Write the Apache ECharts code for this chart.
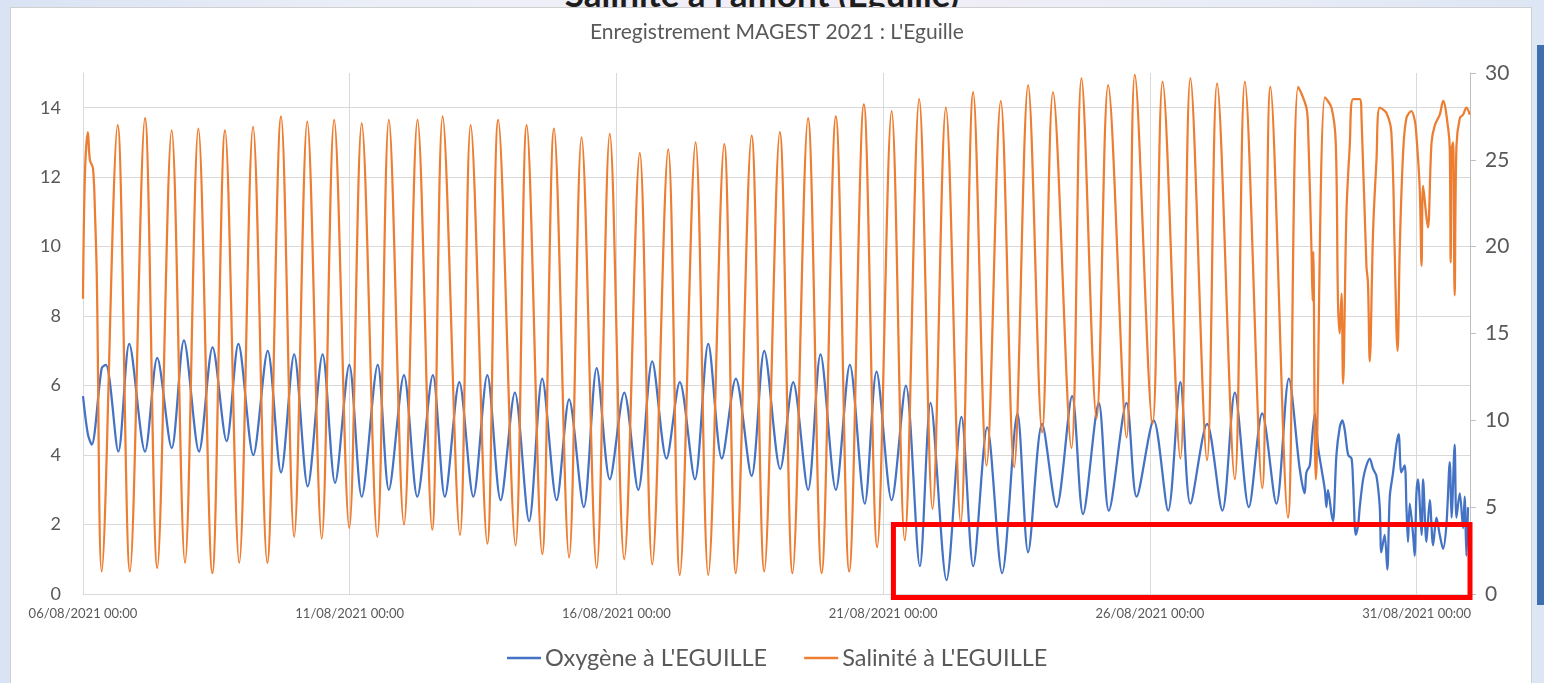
<!DOCTYPE html>
<html>
<head>
<meta charset="utf-8">
<script src="https://cdn.jsdelivr.net/npm/echarts@6/dist/echarts.min.js"></script>
<style>
  html, body { margin: 0; padding: 0; width: 1544px; height: 683px; overflow: hidden; }
  body { position: relative; background: linear-gradient(90deg, #d9e3f3 0%, #eceff8 25%, #f2eef7 55%, #e9edf7 80%, #dde6f4 100%); }
  #slideTitle { position: absolute; top: -28px; left: 0; width: 1524px; text-align: center; line-height: 40px;
    font: bold 35px Lato, "Open Sans", sans-serif; color: #1d1d1d; white-space: nowrap; }
  #edge { position: absolute; right: 0; top: 45px; width: 7px; height: 560px; background: #3f6fae; }
  #chart { position: absolute; left: 10px; top: 7px; width: 1522px; height: 676px; background: #fff;
    border: 1px solid #d0d0d0; border-bottom: none; box-sizing: border-box; }
</style>
</head>
<body>
<div id="slideTitle">Salinité à l'amont (Eguille)</div>
<div id="edge"></div>
<div id="chart"></div>
<script>
// Recording start: 06/08/2021 00:00 (times below are hours after this instant)
const START = Date.UTC(2021, 7, 6, 0, 0);

// Salinity at L'Eguille (right axis)
const salHours = [0, 0.9, 2.2, 3.1, 4.5, 5.4, 6.2, 8.4,
  15.6, 21.1, 27.9, 33.4, 39.9, 45.9, 51.9, 58.2, 63.9, 70.3, 76.5, 82.9, 89.1, 95.0, 100.9, 107.4,
  113.0, 119.8, 125.4, 132.4, 137.6, 144.4, 150.5, 157.1, 161.8, 169.6, 174.4, 181.9, 186.8, 194.6,
  199.6, 206.6, 211.9, 218.7, 224.3, 231.1, 237.0, 243.5, 250.5, 256.1, 263.3, 268.5, 275.6, 281.3,
  288.5, 293.7, 300.8, 306.5, 313.5, 319.2, 326.2, 332.3, 338.7, 344.7, 351.3, 357.3, 363.8, 369.7,
  376.2, 382.2, 388.2, 394.9, 400.5, 406.5, 412.9, 418.9, 425.2, 431.5, 436.4, 444.7, 449.2, 456.0,
  461.2, 469.5, 473.2, 481.2, 485.7, 493.7, 498.2, 505.7, 510.2, 518.2, 522.7, 530.5, 534.2, 542.1,
  546.7, 550.4, 551.2, 552.7, 553.2, 553.5, 554.6,
  558.7, 561.7, 563.6, 564.6, 565.4, 566.2, 566.9,
  568.4, 569.9, 571.4, 574.4, 575.2, 577.4, 578.1, 578.9,
  580.4, 581.9, 583.4, 586.4, 588.6, 590.1, 590.9, 591.4,
  592.4, 593.9, 595.4, 597.6, 599.1, 599.9, 601.4, 602.2, 602.9, 604.4, 605.1, 606.7, 608.2, 610.4,
  611.9, 614.2, 614.9, 615.3, 615.7, 616.4, 616.7, 617.1, 617.9, 619.4, 620.9, 622.4, 623.9];
const salValues = [17.0, 24.3, 26.6, 25.0, 24.5, 21.9, 18.3, 1.3,
  27.0, 1.3, 27.4, 1.5, 26.7, 1.8, 26.8, 1.2, 26.7, 1.8, 26.9, 1.8, 27.5, 3.3, 27.2, 3.2,
  27.3, 3.8, 27.1, 3.3, 27.3, 4.0, 27.3, 3.7, 27.5, 3.4, 27.0, 2.9, 27.3, 2.8,
  27.0, 2.3, 26.8, 2.1, 26.3, 1.5, 26.5, 2.0, 25.4, 1.7, 25.6, 1.1, 26.0, 1.1,
  25.9, 1.2, 26.4, 1.3, 26.6, 1.2, 27.4, 1.2, 27.5, 1.3, 28.2, 2.7, 27.8, 3.1,
  28.5, 4.9, 28.0, 4.1, 28.9, 7.4, 28.4, 7.3, 29.3, 9.3, 28.9, 8.4, 29.7, 10.1,
  29.3, 9.0, 29.9, 9.8, 29.5, 7.8, 29.7, 7.7, 29.4, 6.6, 29.5, 6.1, 29.2, 4.4,
  29.2, 28.0, 26.6, 19.7, 16.9, 19.7, 6.6,
  28.6, 28.0, 26.0, 16.9, 15.0, 17.3, 12.1,
  21.9, 25.8, 28.5, 28.5, 27.4, 18.9, 17.9, 13.4,
  20.9, 24.9, 28.0, 27.7, 26.6, 19.9, 15.3, 14.0,
  19.9, 25.4, 27.4, 27.8, 27.3, 26.4, 23.3, 18.9, 23.5, 21.7, 21.1, 26.0, 27.0, 27.6,
  28.4, 26.8, 25.6, 19.1, 25.6, 26.0, 21.9, 17.2, 25.8, 27.4, 27.6, 28.0, 27.6];

// Dissolved oxygen at L'Eguille (left axis)
const oxyHours = [0, 2.2, 3.9, 8.4, 10.3, 15.9, 20.8, 27.9, 33.4, 39.9, 45.4, 52.2, 58.3, 64.6, 69.9,
  76.6, 83.1, 89.1, 95.0, 101.1, 107.8, 113.4, 119.8, 125.4, 132.6, 137.6, 144.4, 150.4, 157.4, 162.8,
  169.3, 175.6, 181.9, 187.9, 194.3, 200.7, 206.6, 213.1, 218.7, 225.3, 231.1, 237.0, 243.5, 249.8,
  256.1, 262.5, 268.5, 275.3, 281.3, 287.4, 293.7, 300.8, 306.5, 313.7, 319.5, 326.2, 331.8, 338.7,
  345.0, 351.7, 357.0, 363.8, 370.2, 376.5, 381.3, 388.5, 395.2, 400.5, 406.8, 413.5, 420.4, 425.2,
  431.5, 438.0, 445.0, 449.9, 457.0, 461.5, 469.5, 474.0, 481.7, 488.2, 493.7, 498.2, 505.7, 512.6,
  518.2, 524.5, 530.5, 536.9, 542.5,
  547.4, 549.6, 550.4, 551.9, 552.7, 554.2, 555.7, 557.2, 558.7, 559.4, 560.1, 561.7, 562.4, 563.9,
  565.4, 566.6, 567.7, 569.2, 570.7, 571.4, 572.6, 573.7, 574.4, 575.9, 577.4, 578.9, 580.4, 581.9,
  583.4, 584.1, 585.6, 586.8, 587.9, 589.4, 590.9, 591.9, 593.1, 594.6, 595.4, 596.1, 596.9, 598.4,
  599.1, 599.9, 600.6, 602.2, 602.9, 604.4, 605.9, 607.4, 608.9, 610.4, 611.9, 613.4, 614.9, 615.7,
  617.1, 617.9, 619.4, 620.9, 621.6, 622.4, 623.1];
const oxyValues = [5.7, 4.6, 4.3, 6.5, 6.6, 4.1, 7.2, 4.1, 6.8, 4.2, 7.3, 4.1, 7.1, 4.4, 7.2,
  4.0, 7.0, 3.5, 6.9, 3.1, 6.9, 3.2, 6.6, 2.8, 6.6, 3.0, 6.3, 2.8, 6.3, 2.8,
  6.1, 2.8, 6.3, 2.7, 5.8, 2.1, 6.2, 2.7, 5.6, 2.5, 6.5, 3.3, 5.8, 3.0,
  6.7, 3.9, 6.1, 3.3, 7.2, 3.9, 6.2, 3.4, 7.0, 3.6, 6.1, 3.0, 6.9, 3.0,
  6.6, 2.6, 6.4, 2.7, 6.0, 0.8, 5.5, 0.4, 5.1, 0.8, 4.8, 0.6, 5.2, 1.2,
  4.9, 2.5, 5.7, 2.3, 5.5, 2.4, 5.5, 2.8, 5.0, 2.4, 6.1, 2.6, 4.9, 2.4,
  5.8, 2.5, 5.2, 2.6, 6.2,
  3.6, 2.9, 3.5, 3.7, 4.3, 5.2, 4.2, 3.6, 3.0, 2.5, 3.0, 2.3, 2.1, 4.0,
  4.8, 5.0, 4.7, 4.0, 3.9, 3.2, 1.7, 2.0, 2.5, 3.3, 3.7, 3.9, 3.6, 3.4,
  2.5, 1.2, 1.7, 0.7, 2.8, 3.5, 4.3, 4.6, 3.5, 3.7, 2.5, 1.5, 2.6, 1.7,
  1.1, 2.9, 3.3, 1.7, 3.3, 1.5, 2.7, 1.4, 2.2, 1.7, 1.3, 2.0, 3.8, 2.2,
  4.3, 2.2, 2.9, 1.9, 2.8, 1.1, 2.5];

// Highlighted low-oxygen period
const focusWindow = ['2021-08-21T04:36Z', '2021-09-01T00:00Z'];
const focusRange = [-0.1, 2.0];

const pairs = (xs, ys) => xs.map((x, i) => [x, ys[i]]);
const pad = n => String(n).padStart(2, '0');
function dateLabel(h) {
  const d = new Date(START + h * 3600e3);
  return pad(d.getUTCDate()) + '/' + pad(d.getUTCMonth() + 1) + '/' + d.getUTCFullYear() +
    ' ' + pad(d.getUTCHours()) + ':' + pad(d.getUTCMinutes());
}
const hoursOf = s => (Date.parse(s) - START) / 3600e3;

const FONT = 'Lato, "Open Sans", sans-serif';
const TXT = '#595959';
const GRID = '#d9d9d9';
const BLUE = '#4472C4';
const ORANGE = '#ED7D31';

const chart = echarts.init(document.getElementById('chart'), null, { renderer: 'canvas' });
chart.setOption({
  animation: false,
  title: {
    text: "Enregistrement MAGEST 2021 : L'Eguille",
    left: 574, top: 9,
    textStyle: { fontFamily: FONT, fontSize: 21, fontWeight: 'normal', color: TXT }
  },
  legend: {
    left: 491, top: 633, icon: 'rect', itemWidth: 34, itemHeight: 2.5, itemGap: 37,
    textStyle: { fontFamily: FONT, fontSize: 23.5, color: TXT, padding: [0, 0, 0, -1] },
    data: ["Oxygène à L'EGUILLE", "Salinité à L'EGUILLE"]
  },
  grid: { left: 72, right: 61, top: 65, bottom: 89 },
  xAxis: {
    type: 'value', min: 0, max: 624, interval: 120,
    axisLine: { show: true, lineStyle: { color: GRID, width: 1 } },
    axisTick: { show: false },
    splitLine: { show: true, lineStyle: { color: GRID, width: 1 } },
    axisLabel: { formatter: dateLabel, showMaxLabel: false, margin: 13,
      fontFamily: FONT, fontSize: 13, color: TXT }
  },
  yAxis: [
    {
      type: 'value', min: 0, max: 15, interval: 2, position: 'left',
      axisLine: { show: true, lineStyle: { color: GRID } },
      axisTick: { show: false },
      axisLabel: { showMaxLabel: false, margin: 22, fontFamily: FONT, fontSize: 18, color: TXT },
      splitLine: { show: true, lineStyle: { color: [GRID, GRID, GRID, GRID, GRID, GRID, GRID, GRID, 'rgba(0,0,0,0)'] } }
    },
    {
      type: 'value', min: 0, max: 30, interval: 5, position: 'right',
      axisLine: { show: true, lineStyle: { color: '#bfbfbf' } },
      axisTick: { show: true, length: 6, lineStyle: { color: '#bfbfbf' } },
      axisLabel: { margin: 15, fontFamily: FONT, fontSize: 21, color: TXT },
      splitLine: { show: false }
    }
  ],
  series: [
    {
      name: "Oxygène à L'EGUILLE", type: 'line', yAxisIndex: 0,
      data: pairs(oxyHours, oxyValues), symbol: 'none', smooth: 0.3,
      lineStyle: { width: 2.25, color: BLUE }, itemStyle: { color: BLUE }
    },
    {
      name: "Salinité à L'EGUILLE", type: 'line', yAxisIndex: 1,
      data: pairs(salHours, salValues), symbol: 'none', smooth: 0.35,
      lineStyle: { width: 2.25, color: ORANGE }, itemStyle: { color: ORANGE }
    }
  ]
});

// Red frame around the low-oxygen period, placed through the axes' own scales
const a = chart.convertToPixel({ xAxisIndex: 0, yAxisIndex: 0 }, [hoursOf(focusWindow[0]), focusRange[1]]);
const b = chart.convertToPixel({ xAxisIndex: 0, yAxisIndex: 0 }, [hoursOf(focusWindow[1]), focusRange[0]]);
chart.setOption({
  graphic: [{
    type: 'rect', z: 100,
    shape: { x: a[0], y: a[1], width: b[0] - a[0], height: b[1] - a[1] },
    style: { fill: 'none', stroke: '#ff0000', lineWidth: 5 }
  }]
});
</script>
</body>
</html>
